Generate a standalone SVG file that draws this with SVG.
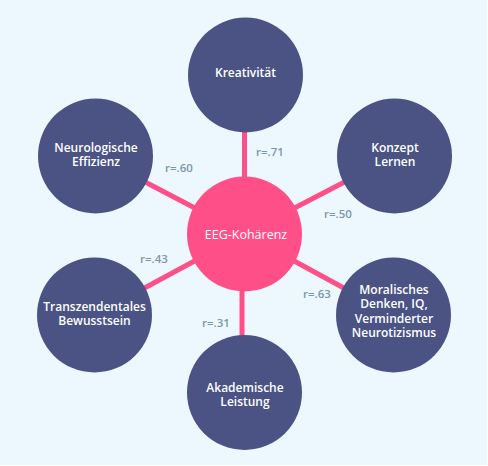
<svg xmlns="http://www.w3.org/2000/svg" width="488" height="466" viewBox="0 0 488 466">
<style>
.bg{fill:#EDF8FE}
.link{stroke:#FF4F88;stroke-width:5}
.node{fill:#4A5384}
.hub{fill:#FF4F88}
.t{fill:#FFFFFF;font-family:"Open Sans","Noto Sans",sans-serif;font-size:12px;font-weight:600;text-anchor:middle}
.th{fill:#FFFFFF;font-family:"Open Sans","Noto Sans",sans-serif;font-size:12.5px;text-anchor:middle}
.r{fill:#7F95A8;font-family:"Open Sans","Noto Sans",sans-serif;font-size:11.5px;font-weight:600}
</style>
<rect class="bg" x="0" y="0" width="487" height="465"/>
<g id="connectors">
<line class="link" x1="244.5" y1="234" x2="244.5" y2="75"/>
<line class="link" x1="244.5" y1="234" x2="394.5" y2="156"/>
<line class="link" x1="244.5" y1="234" x2="95.5" y2="156"/>
<line class="link" x1="244.5" y1="234" x2="94.5" y2="315"/>
<line class="link" x1="244.5" y1="234" x2="393.5" y2="315"/>
<line class="link" x1="242" y1="234" x2="242" y2="392"/>
<text class="r" x="256" y="155.5">r=.71</text>
<text class="r" x="165" y="171.5">r=.60</text>
<text class="r" x="324" y="217.5">r=.50</text>
<text class="r" x="140" y="262.5">r=.43</text>
<text class="r" x="303" y="297.5">r=.63</text>
<text class="r" x="202" y="326.5">r=.31</text>
</g>
<g id="kreativitaet">
<circle class="node" cx="245.5" cy="75" r="57.5"/>
<text class="t" x="245.5" y="76.5">Kreativität</text>
</g>
<g id="konzept">
<circle class="node" cx="394.5" cy="156" r="57.5"/>
<text class="t" x="395" y="151.5">Konzept</text>
<text class="t" x="395" y="166">Lernen</text>
</g>
<g id="neurologische">
<circle class="node" cx="95.5" cy="156" r="57.5"/>
<text class="t" x="96" y="151.5">Neurologische</text>
<text class="t" x="96" y="166">Effizienz</text>
</g>
<g id="transzendentales">
<circle class="node" cx="94.5" cy="315" r="57.5"/>
<text class="t" x="94.5" y="311">Transzendentales</text>
<text class="t" x="94.5" y="325">Bewusstsein</text>
</g>
<g id="moralisches">
<circle class="node" cx="393.5" cy="315" r="57.5"/>
<text class="t" x="394" y="293.5">Moralisches</text>
<text class="t" x="394" y="308">Denken, IQ,</text>
<text class="t" x="394" y="322.5">Verminderter</text>
<text class="t" x="394" y="337">Neurotizismus</text>
</g>
<g id="akademische">
<circle class="node" cx="244.5" cy="392.5" r="57.5"/>
<text class="t" x="245" y="391.5">Akademische</text>
<text class="t" x="245" y="406">Leistung</text>
</g>
<g id="eeg">
<circle class="hub" cx="244.5" cy="234" r="57.5"/>
<text class="th" x="246" y="239">EEG-Kohärenz</text>
</g>
</svg>
